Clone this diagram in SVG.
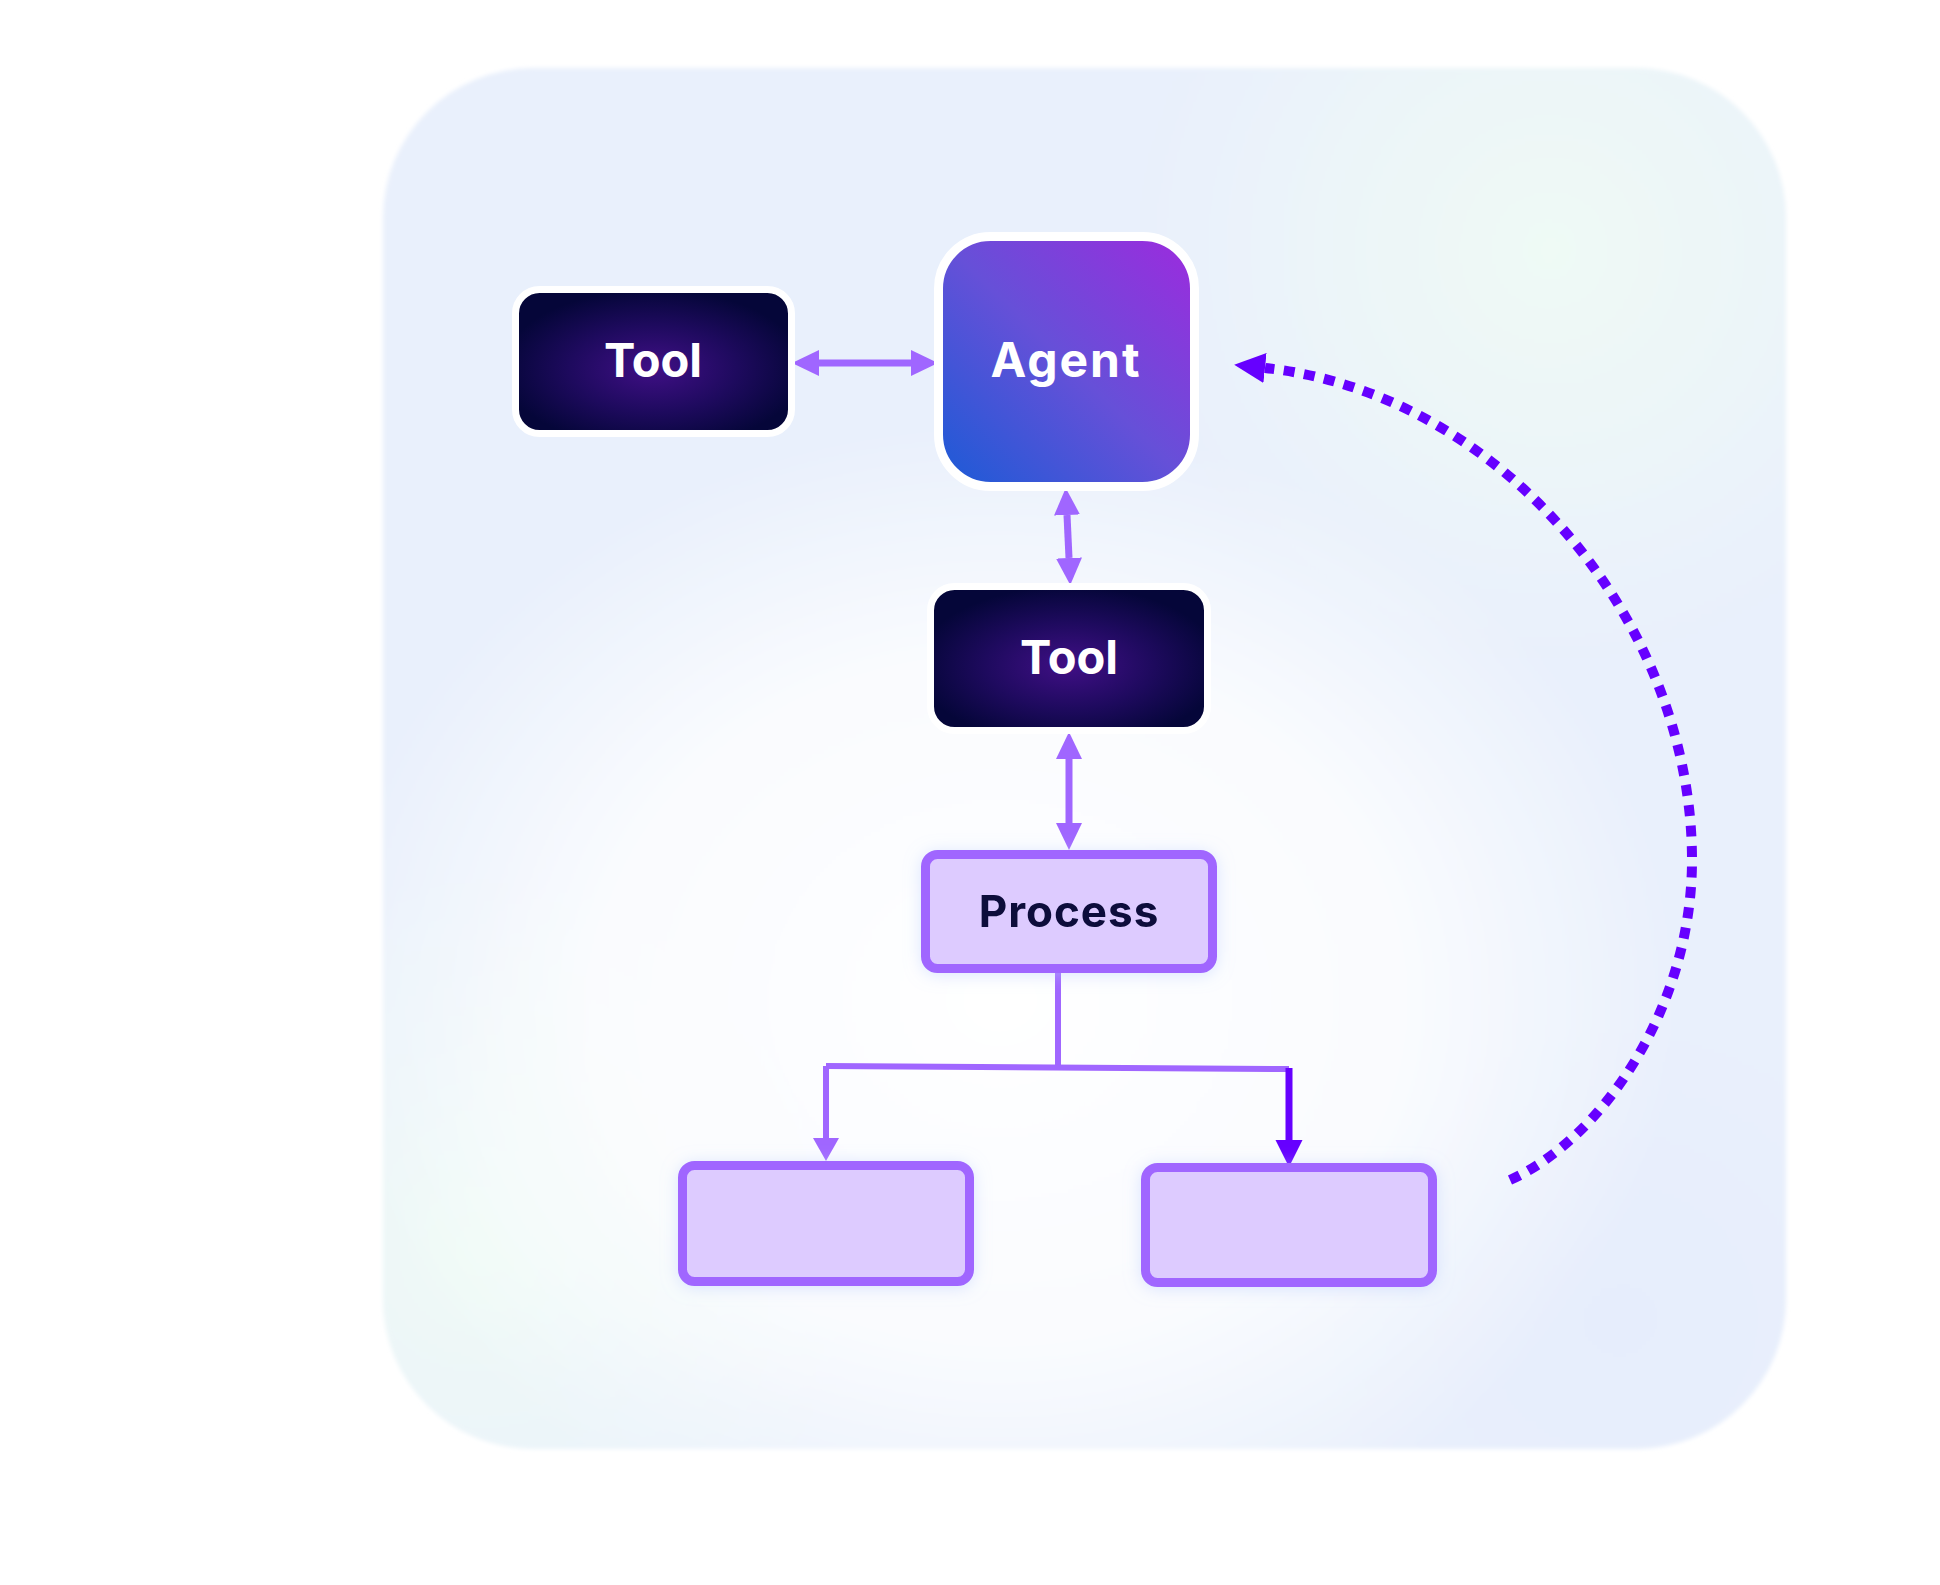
<svg xmlns="http://www.w3.org/2000/svg" width="1940" height="1585" viewBox="0 0 1940 1585">
  <defs>
    <style>
      .lbl { font-family: Inter, "Noto Sans", "Liberation Sans", sans-serif; font-weight: 700; text-anchor: middle; }
      .white { fill: #ffffff; }
      .dark { fill: #0b0b3b; }
      .tool { fill: url(#toolGrad); stroke: #ffffff; stroke-width: 7; }
      .box { fill: #ddcbff; stroke: #a066ff; stroke-width: 9; }
      .conn { fill: none; stroke: #a066ff; stroke-width: 7; }
      .tree { fill: none; stroke: #a066ff; stroke-width: 6; }
      .treeDark { fill: none; stroke: #6600ff; stroke-width: 7; }
      .dotted { fill: none; stroke: #6600ff; stroke-width: 10; stroke-dasharray: 11 9.5; }
    </style>
    <radialGradient id="toolGrad" cx="0.5" cy="0.55" r="0.55">
      <stop offset="0" stop-color="#400f86"/>
      <stop offset="0.55" stop-color="#1e0a5e"/>
      <stop offset="1" stop-color="#050639"/>
    </radialGradient>
    <linearGradient id="agentGrad" x1="0" y1="1" x2="1" y2="0">
      <stop offset="0" stop-color="#1a5bd6"/>
      <stop offset="0.5" stop-color="#6650d8"/>
      <stop offset="1" stop-color="#9d2ade"/>
    </linearGradient>
    <radialGradient id="bgWhite" cx="1000" cy="1000" r="680" gradientUnits="userSpaceOnUse" gradientTransform="translate(1000 1000) scale(1 0.85) translate(-1000 -1000)">
      <stop offset="0" stop-color="#ffffff" stop-opacity="1"/>
      <stop offset="0.6" stop-color="#ffffff" stop-opacity="0.75"/>
      <stop offset="1" stop-color="#ffffff" stop-opacity="0"/>
    </radialGradient>
    <radialGradient id="bgMint1" cx="1550" cy="250" r="420" gradientUnits="userSpaceOnUse">
      <stop offset="0" stop-color="#effaf5" stop-opacity="1"/>
      <stop offset="1" stop-color="#effaf5" stop-opacity="0"/>
    </radialGradient>
    <radialGradient id="bgMint2" cx="480" cy="1250" r="380" gradientUnits="userSpaceOnUse">
      <stop offset="0" stop-color="#effaf6" stop-opacity="1"/>
      <stop offset="1" stop-color="#effaf6" stop-opacity="0"/>
    </radialGradient>
    <radialGradient id="bgLav" cx="1620" cy="1320" r="300" gradientUnits="userSpaceOnUse">
      <stop offset="0" stop-color="#e6edfc" stop-opacity="1"/>
      <stop offset="1" stop-color="#e6edfc" stop-opacity="0"/>
    </radialGradient>
    <clipPath id="panelClip">
      <rect x="383" y="68" width="1403" height="1381" rx="150"/>
    </clipPath>
    <filter id="soft" x="-5%" y="-5%" width="110%" height="110%">
      <feGaussianBlur stdDeviation="2"/>
    </filter>
    <filter id="glow" x="-20%" y="-30%" width="140%" height="160%">
      <feDropShadow dx="0" dy="2" stdDeviation="8" flood-color="#b9ccff" flood-opacity="0.5"/>
    </filter>
    <marker id="ah" markerUnits="userSpaceOnUse" markerWidth="28" markerHeight="28" refX="0" refY="13" orient="auto-start-reverse">
      <path d="M0,0 L27,13 L0,26 z" fill="#a066ff"/>
    </marker>
    <marker id="ahSmall" markerUnits="userSpaceOnUse" markerWidth="28" markerHeight="28" refX="0" refY="13" orient="auto">
      <path d="M0,0 L23,13 L0,26 z" fill="#a066ff"/>
    </marker>
    <marker id="ahDark" markerUnits="userSpaceOnUse" markerWidth="30" markerHeight="30" refX="0" refY="13.5" orient="auto">
      <path d="M0,0 L27,13.5 L0,27 z" fill="#6600ff"/>
    </marker>
    <marker id="ahDot" markerUnits="userSpaceOnUse" markerWidth="34" markerHeight="34" refX="0" refY="15" orient="auto">
      <path d="M0,0 L31,15 L0,30 z" fill="#6600ff"/>
    </marker>
  </defs>

  <rect width="1940" height="1585" fill="#ffffff"/>

  <g id="panel">
    <g filter="url(#soft)">
      <rect x="383" y="68" width="1403" height="1381" rx="150" fill="#e9f0fc"/>
      <g clip-path="url(#panelClip)">
        <rect x="383" y="68" width="1403" height="1381" fill="url(#bgMint1)"/>
        <rect x="383" y="68" width="1403" height="1381" fill="url(#bgMint2)"/>
        <rect x="383" y="68" width="1403" height="1381" fill="url(#bgLav)"/>
        <rect x="383" y="68" width="1403" height="1381" fill="url(#bgWhite)"/>
      </g>
    </g>
  </g>

  <g id="connectors">
    <path class="conn" d="M819,363 L911,363" marker-start="url(#ah)" marker-end="url(#ah)"/>
    <path class="conn" d="M1067,515 L1069,558" marker-start="url(#ah)" marker-end="url(#ah)"/>
    <path class="conn" d="M1069,759 L1069,823" marker-start="url(#ah)" marker-end="url(#ah)"/>
    <path class="tree" d="M1058,973 L1058,1067"/>
    <path class="tree" d="M826,1066 L1289,1069"/>
    <path class="tree" d="M826,1066 L826,1138" marker-end="url(#ahSmall)"/>
    <path class="treeDark" d="M1289,1068 L1289,1140" marker-end="url(#ahDark)"/>
    <path class="dotted" d="M1510,1180 C1600,1140 1692,1010 1692,860 C1692,620 1500,393 1265,368" marker-end="url(#ahDot)"/>
  </g>

  <g id="tool-left">
    <rect class="tool" x="515.5" y="289.5" width="276" height="144" rx="24"/>
    <text class="lbl white" x="653" y="377" font-size="47">Tool</text>
  </g>

  <g id="agent">
    <rect x="938.5" y="236.5" width="256" height="250" rx="52" fill="url(#agentGrad)" stroke="#ffffff" stroke-width="9"/>
    <text class="lbl white" x="1066" y="377" font-size="48" letter-spacing="2">Agent</text>
  </g>

  <g id="tool-mid">
    <rect class="tool" x="930.5" y="586.5" width="277" height="144" rx="24"/>
    <text class="lbl white" x="1069" y="674" font-size="47">Tool</text>
  </g>

  <g id="process" filter="url(#glow)">
    <rect class="box" x="925.5" y="854.5" width="287" height="114" rx="12"/>
    <text class="lbl dark" x="1069" y="927" font-size="44" letter-spacing="1">Process</text>
  </g>

  <g id="box-left" filter="url(#glow)">
    <rect class="box" x="682.5" y="1165.5" width="287" height="116" rx="12"/>
  </g>

  <g id="box-right" filter="url(#glow)">
    <rect class="box" x="1145.5" y="1167.5" width="287" height="115" rx="12"/>
  </g>
</svg>
